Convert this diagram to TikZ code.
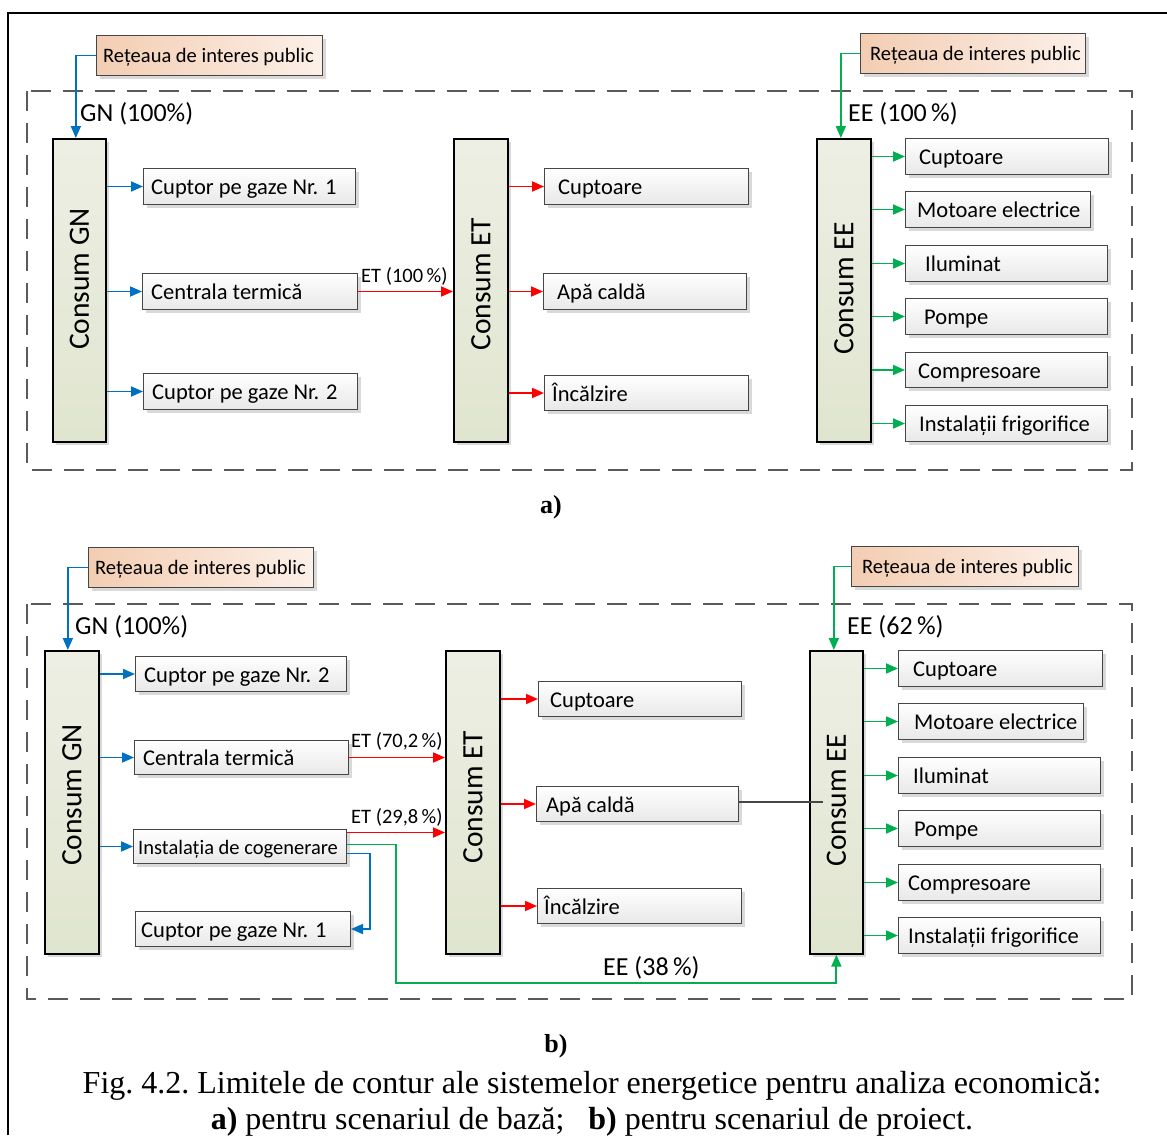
\documentclass[tikz,border=0pt]{standalone}
\usepackage{fontspec}
\setmainfont{Carlito}
\newfontfamily\capfont{Liberation Serif}
\usetikzlibrary{arrows.meta,shadows}

\definecolor{gnblue}{RGB}{0,112,192}
\definecolor{etred}{RGB}{255,0,0}
\definecolor{eegreen}{RGB}{0,176,80}
\definecolor{peachL}{RGB}{243,205,178}
\definecolor{peachR}{RGB}{252,240,232}
\definecolor{consTop}{RGB}{237,239,228}
\definecolor{consBot}{RGB}{224,229,207}
\definecolor{edge}{RGB}{70,70,70}
\definecolor{dashgray}{RGB}{90,90,90}

\newcommand\boxfont{\fontsize{22.5}{26}\selectfont}
\newcommand\smallboxfont{\fontsize{20.5}{24}\selectfont}
\newcommand\consfont{\fontsize{29.5}{34}\selectfont}
\newcommand\flowfont{\fontsize{26}{30}\selectfont}
\newcommand\etfont{\fontsize{20.5}{24}\selectfont}

\tikzset{
  boxshadow/.style={drop shadow={shadow xshift=3pt,shadow yshift=-3pt,fill=black!25,opacity=.6}},
  itembox/.style={draw=edge,line width=1pt,top color=white,bottom color=black!9,boxshadow,inner sep=0pt},
  netbox/.style={draw=edge,line width=1pt,left color=peachL,right color=peachR,boxshadow,inner sep=0pt},
  consbox/.style={draw=black,line width=1.7pt,top color=consTop,bottom color=consBot,boxshadow,inner sep=0pt},
  boxtext/.style={anchor=base west,inner sep=0pt,font=\boxfont},
  flow/.style={line width=1.8pt,-{Triangle[length=12pt,width=10pt]}},
  gnflow/.style={flow,draw=gnblue},
  etflow/.style={flow,draw=etred},
  eeflow/.style={flow,draw=eegreen},
  limit/.style={draw=dashgray,line width=1.3pt,dash pattern=on 20pt off 12pt},
  flowlabel/.style={anchor=base west,inner sep=0pt,font=\flowfont},
  etlabel/.style={anchor=base west,inner sep=0pt,font=\etfont},
}

% item box: name, left, top, width, height, text offset, text
\newcommand\mkbox[7]{%
  \node[itembox,minimum width=#4pt,minimum height=#5pt,anchor=north west] (#1) at (#2,#3) {};
  \node[boxtext] (#1-t) at ([xshift=#6pt,yshift=-8pt]#1.west) {#7};}
% public network box: name, left, top, width, text offset
\newcommand\mknet[5]{%
  \node[netbox,minimum width=#4pt,minimum height=40pt,anchor=north west] (#1) at (#2,#3) {};
  \node[anchor=base west,inner sep=0pt,font=\fontsize{20.5}{24}\selectfont] (#1-t)
    at ([xshift=#5pt,yshift=-7pt]#1.west) {Rețeaua de interes public};}
% consumption column: name, left, top, width, text centre y, text
\newcommand\mkcons[6]{%
  \node[consbox,minimum width=#4pt,minimum height=303pt,anchor=north west] (#1) at (#2,#3) {};
  \node[rotate=90,inner sep=0pt,font=\consfont] (#1-t) at (#1.center |- 0,#5) {#6};}

\begin{document}
\begin{tikzpicture}[x=1pt,y=-1pt]
\useasboundingbox (0,0) rectangle (1167,1135);

% outer frame
\draw[line width=2pt] (8,1135) -- (8,13) -- (1167,13);

% ===================== a) base scenario =====================
\draw[limit] (27,91) rectangle (1132,470);

\mknet{retA1}{96}{35}{226}{7}
\mknet{retA2}{860}{33}{225}{10}

\mkcons{gnA}{52}{138}{53}{279}{Consum GN}
\mkcons{etA}{453}{138}{54}{284}{Consum ET}
\mkcons{eeA}{816}{138}{54}{288}{Consum EE}

\mkbox{cupA1}{143}{168}{212}{36}{8}{Cuptor pe gaze Nr. 1}
\mkbox{cenA}{142}{273}{215}{36}{9}{Centrala termică}
\mkbox{cupA2}{143}{373}{214}{36}{9}{Cuptor pe gaze Nr. 2}

\mkbox{cptA}{544}{168}{204}{36}{14}{Cuptoare}
\mkbox{apaA}{543}{273}{203}{36}{14}{Apă caldă}
\mkbox{incA}{544}{375}{204}{35}{8}{Încălzire}

\mkbox{eA1}{905}{138}{203}{36}{14}{Cuptoare}
\mkbox{eA2}{905}{191}{185}{36}{12}{Motoare electrice}
\mkbox{eA3}{905}{245}{202}{36}{20}{Iluminat}
\mkbox{eA4}{905}{298}{202}{36}{19}{Pompe}
\mkbox{eA5}{905}{352}{202}{35}{13}{Compresoare}
\mkbox{eA6}{905}{405}{202}{36}{14}{Instalații frigorifice}

\draw[gnflow] (retA1.west) -| ([xshift=-3.5pt]gnA.north);
\node[flowlabel] (gnA-in) at (80,121) {GN (100\%)};
\draw[eeflow] (retA2.west) -| ([xshift=-3pt]eeA.north);
\node[flowlabel] (eeA-in) at (848,121) {EE (100\,\%)};

\foreach \b in {cupA1,cenA,cupA2}
  \draw[gnflow] (gnA.east |- \b.west) -- (\b.west);
\draw[etflow] (cenA.east) -- (cenA.east -| etA.west);
\node[etlabel] (etA-in) at (361,282) {ET (100\,\%)};
\foreach \b in {cptA,apaA,incA}
  \draw[etflow] (etA.east |- \b.west) -- (\b.west);
\foreach \b in {eA1,eA2,eA3,eA4,eA5,eA6}
  \draw[eeflow] (eeA.east |- \b.west) -- (\b.west);

\node[font=\capfont\fontsize{26}{30}\selectfont\bfseries] (capA) at (551,507) {a)};

% ===================== b) project scenario =====================
\draw[limit] (27,604) rectangle (1132,999);

\mknet{retB1}{88}{547}{225}{7}
\mknet{retB2}{851}{546}{227}{11}

\mkcons{gnB}{44}{650}{54}{795}{Consum GN}
\mkcons{etB}{445}{650}{54}{797}{Consum ET}
\mkcons{eeB}{809}{650}{53}{800}{Consum EE}

\mkbox{cupB2}{135}{656}{211}{35}{9}{Cuptor pe gaze Nr. 2}
\mkbox{cenB}{134}{740}{214}{34}{9}{Centrala termică}
\mkbox{cog}{133}{829}{213}{34}{5}{\smallboxfont Instalația de cogenerare}
\mkbox{cupB1}{135}{911}{215}{35}{6}{Cuptor pe gaze Nr. 1}

\mkbox{cptB}{538}{681}{203}{35}{12}{Cuptoare}
\mkbox{apaB}{536}{786}{202}{35}{10}{Apă caldă}
\mkbox{incB}{537}{888}{204}{35}{7}{Încălzire}

\mkbox{eB1}{898}{650}{204}{36}{15}{Cuptoare}
\mkbox{eB2}{898}{703}{185}{36}{16}{Motoare electrice}
\mkbox{eB3}{898}{757}{202}{36}{15}{Iluminat}
\mkbox{eB4}{898}{810}{202}{36}{16}{Pompe}
\mkbox{eB5}{898}{864}{202}{36}{10}{Compresoare}
\mkbox{eB6}{898}{917}{202}{36}{10}{Instalații frigorifice}

\draw[gnflow] (retB1.west) -| ([xshift=-4pt]gnB.north);
\node[flowlabel] (gnB-in) at (75,634) {GN (100\%)};
\draw[eeflow] (retB2.west) -| ([xshift=-2.5pt]eeB.north);
\node[flowlabel] (eeB-in) at (847,634) {EE (62\,\%)};

\foreach \b in {cupB2,cenB,cog}
  \draw[gnflow] (gnB.east |- \b.west) -- (\b.west);
% natural gas passed on from the cogeneration unit to furnace no. 1
\draw[gnflow] ([yshift=-7pt]cog.east) -- ++(23,0) |- (cupB1.east);

\draw[etflow] (cenB.east) -- (cenB.east -| etB.west);
\node[etlabel] (etB-in1) at (351,747) {ET (70,2\,\%)};
\draw[etflow] ([yshift=14pt]cog.east) -- ([yshift=14pt]cog.east -| etB.west);
\node[etlabel] (etB-in2) at (351,823) {ET (29,8\,\%)};
\foreach \b in {cptB,apaB,incB}
  \draw[etflow] (etB.east |- \b.west) -- (\b.west);
\foreach \b in {eB1,eB2,eB3,eB4,eB5,eB6}
  \draw[eeflow] (eeB.east |- \b.west) -- (\b.west);

% electricity from cogeneration routed below the ET column
\coordinate (eeLoop) at (396,983);
\draw[eeflow] ([yshift=2pt]cog.east) -| (eeLoop) -| (eeB.south);
\node[flowlabel] (eeB-in2) at (603,975) {EE (38\,\%)};

% hot water link
\coordinate (apaEnd) at (823,802);
\draw[draw=edge,line width=1.2pt] (apaB.east |- apaEnd) -- (apaEnd);

\node[font=\capfont\fontsize{26}{30}\selectfont\bfseries] (capB) at (556,1046) {b)};

% caption
\node[font=\capfont\fontsize{32}{36}\selectfont,align=center,anchor=north] (caption) at (592,1068)
  {\frenchspacing Fig. 4.2. Limitele de contur ale sistemelor energetice pentru analiza economică:\\
   \textbf{a)} pentru scenariul de bază;\hspace{0.75em}\textbf{b)} pentru scenariul de proiect.};
\end{tikzpicture}
\end{document}
